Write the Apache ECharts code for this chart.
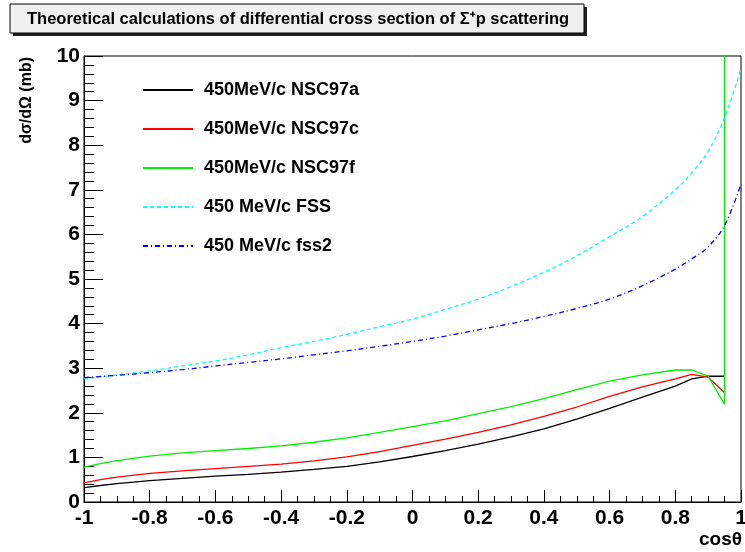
<!DOCTYPE html>
<html>
<head>
<meta charset="utf-8">
<script src="https://cdn.jsdelivr.net/npm/echarts@6/dist/echarts.min.js"></script>
<style>html,body{margin:0;padding:0;background:#fff}#c{width:745px;height:552px}</style>
</head>
<body>
<div id="c"></div>
<script>
// ---- data ----
const nscX = [-1,-0.95,-0.9,-0.8,-0.7,-0.6,-0.5,-0.4,-0.3,-0.2,-0.1,0,0.1,0.2,0.3,0.4,0.5,0.6,0.7,0.8,0.85,0.9,0.95];
const nsc97a = [0.32,0.37,0.41,0.48,0.53,0.58,0.62,0.67,0.73,0.80,0.90,1.02,1.15,1.30,1.46,1.64,1.86,2.10,2.35,2.60,2.76,2.82,2.82];
const nsc97c = [0.43,0.50,0.56,0.64,0.70,0.75,0.80,0.85,0.92,1.01,1.13,1.27,1.41,1.56,1.73,1.92,2.13,2.37,2.58,2.76,2.86,2.80,2.45];
const nsc97f = [0.78,0.86,0.93,1.03,1.10,1.15,1.20,1.26,1.34,1.44,1.56,1.69,1.82,1.98,2.14,2.32,2.52,2.71,2.85,2.96,2.96,2.82,2.19];
const nsc97fSpikeX = 0.95, nsc97fSpikeY = 12;
const fssX = [-1,-0.9,-0.8,-0.7,-0.6,-0.5,-0.4,-0.3,-0.2,-0.1,0,0.1,0.2,0.3,0.4,0.5,0.6,0.7,0.8,0.85,0.9,0.95,1];
const fss = [2.76,2.85,2.94,3.05,3.16,3.30,3.46,3.60,3.76,3.93,4.10,4.32,4.55,4.83,5.15,5.52,5.95,6.40,7.00,7.38,7.86,8.62,9.71];
const fss2 = [2.79,2.84,2.90,2.97,3.05,3.13,3.21,3.30,3.39,3.49,3.60,3.72,3.86,4.00,4.16,4.34,4.55,4.85,5.22,5.45,5.72,6.20,7.13];
const names = ['450MeV/c NSC97a','450MeV/c NSC97c','450MeV/c NSC97f','450 MeV/c FSS','450 MeV/c fss2'];
const titleText = 'Theoretical calculations of differential cross section of \u03A3\u207Ap scattering';

const pair = (xs, ys) => xs.map((x, i) => [x, ys[i]]);
const F = '"Liberation Sans", Arial, Helvetica, sans-serif';

const chart = echarts.init(document.getElementById('c'), null, {renderer: 'canvas'});
const greenData = pair(nscX, nsc97f).concat([[nsc97fSpikeX, nsc97fSpikeY]]);

chart.setOption({
  animation: false,
  backgroundColor: '#fff',
  grid: {left: 84, right: 4, top: 56, bottom: 50, show: true, borderColor: '#000', borderWidth: 1,
    backgroundColor: 'transparent', containLabel: false, outerBoundsMode: 'none'},
  xAxis: {
    type: 'value', min: -1, max: 1, interval: 0.2,
    axisLine: {show: true, onZero: false, lineStyle: {color: '#000', width: 1}},
    axisTick: {show: true, inside: true, length: 12, lineStyle: {color: '#000'}},
    minorTick: {show: true, splitNumber: 4, length: 6, lineStyle: {color: '#000'}},
    splitLine: {show: false},
    axisLabel: {color: '#000', fontFamily: F, fontWeight: 'bold', fontSize: 21, margin: 6,
      formatter: v => String(Math.round(v * 10) / 10)}
  },
  yAxis: {
    type: 'value', min: 0, max: 10, interval: 1,
    axisLine: {show: true, onZero: false, lineStyle: {color: '#000', width: 1}},
    axisTick: {show: true, inside: true, length: 19, lineStyle: {color: '#000'}},
    minorTick: {show: true, splitNumber: 5, length: 10, lineStyle: {color: '#000'}},
    splitLine: {show: false},
    axisLabel: {color: '#000', fontFamily: F, fontWeight: 'bold', fontSize: 21, margin: 4}
  },
  legend: {
    orient: 'vertical', left: 142, top: 81, itemWidth: 50, itemHeight: 18, itemGap: 21, padding: 0,
    itemStyle: {opacity: 0, borderWidth: 0},
    textStyle: {color: '#000', fontFamily: F, fontWeight: 'bold', fontSize: 18, padding: [0, 0, 0, 6]},
    data: names
  },
  series: [
    {name: names[0], type: 'line', data: pair(nscX, nsc97a), showSymbol: false, symbol: 'none', lineStyle: {color: '#000000', width: 1.3}, itemStyle: {color: '#000000'}},
    {name: names[1], type: 'line', data: pair(nscX, nsc97c), showSymbol: false, symbol: 'none', lineStyle: {color: '#ff0000', width: 1.3}, itemStyle: {color: '#ff0000'}},
    {name: names[2], type: 'line', data: greenData, showSymbol: false, symbol: 'none', clip: true, lineStyle: {color: '#00ee00', width: 1.3}, itemStyle: {color: '#00ee00'}},
    {name: names[3], type: 'line', data: pair(fssX, fss), showSymbol: false, symbol: 'none', smooth: 0.35, lineStyle: {color: '#00ffff', width: 1.3, type: [4, 3]}, itemStyle: {color: '#00ffff'}},
    {name: names[4], type: 'line', data: pair(fssX, fss2), showSymbol: false, symbol: 'none', smooth: 0.35, lineStyle: {color: '#0000ff', width: 1.3, type: [5, 3, 1, 3]}, itemStyle: {color: '#0000ff'}}
  ],
  graphic: [
    {type: 'rect', shape: {x: 13, y: 7, width: 574, height: 29}, style: {fill: '#222'}, z: 10},
    {type: 'rect', shape: {x: 10, y: 4, width: 574, height: 29}, style: {fill: '#f0f0f0', stroke: '#000', lineWidth: 1}, z: 11},
    {type: 'text', x: 27, y: 19, z: 12, style: {text: titleText, fill: '#000', font: 'bold 16.5px ' + F, textVerticalAlign: 'middle'}},
    {type: 'text', x: 27, y: 57, rotation: Math.PI / 2, z: 12, style: {text: 'd\u03C3/d\u03A9 (mb)', fill: '#000', font: 'bold 16px ' + F, textAlign: 'right', textVerticalAlign: 'middle'}},
    {type: 'text', right: 3, bottom: 3, z: 12, style: {text: 'cos\u03B8', fill: '#000', font: 'bold 19px ' + F}}
  ]
});
</script>
</body>
</html>
